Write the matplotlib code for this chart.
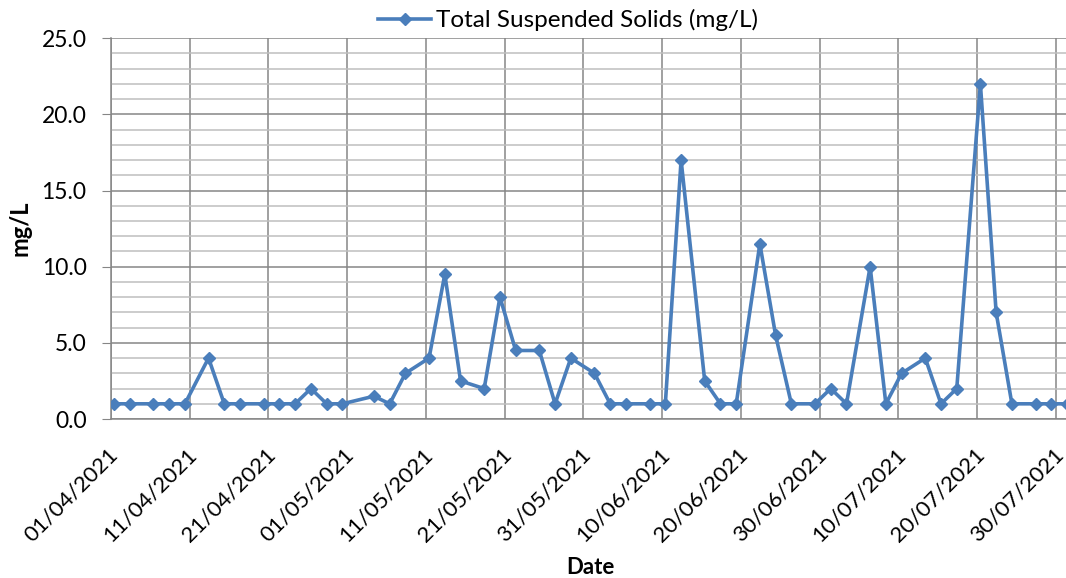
import matplotlib.pyplot as plt
import matplotlib.dates as mdates
import matplotlib.transforms as mtransforms
import pandas as pd
from matplotlib.ticker import MultipleLocator

plt.rcParams['font.family'] = ['Lato', 'DejaVu Sans']

# sampling dates and TSS results
dates = ["01/04/2021", "03/04/2021", "06/04/2021", "08/04/2021", "10/04/2021",
         "13/04/2021", "15/04/2021", "17/04/2021", "20/04/2021", "22/04/2021",
         "24/04/2021", "26/04/2021", "28/04/2021", "30/04/2021", "04/05/2021",
         "06/05/2021", "08/05/2021", "11/05/2021", "13/05/2021", "15/05/2021",
         "18/05/2021", "20/05/2021", "22/05/2021", "25/05/2021", "27/05/2021",
         "29/05/2021", "01/06/2021", "03/06/2021", "05/06/2021", "08/06/2021",
         "10/06/2021", "12/06/2021", "15/06/2021", "17/06/2021", "19/06/2021",
         "22/06/2021", "24/06/2021", "26/06/2021", "29/06/2021", "01/07/2021",
         "03/07/2021", "06/07/2021", "08/07/2021", "10/07/2021", "13/07/2021",
         "15/07/2021", "17/07/2021", "20/07/2021", "22/07/2021", "24/07/2021",
         "27/07/2021", "29/07/2021", "31/07/2021"]
tss = [1, 1, 1, 1, 1,
       4, 1, 1, 1, 1,
       1, 2, 1, 1, 1.5,
       1, 3, 4, 9.5, 2.5,
       2, 8, 4.5, 4.5, 1,
       4, 3, 1, 1, 1,
       1, 17, 2.5, 1, 1,
       11.5, 5.5, 1, 1, 2,
       1, 10, 1, 3, 4,
       1, 2, 22, 7, 1,
       1, 1, 1]
tick_dates = ["01/04/2021", "11/04/2021", "21/04/2021", "01/05/2021", "11/05/2021",
              "21/05/2021", "31/05/2021", "10/06/2021", "20/06/2021", "30/06/2021",
              "10/07/2021", "20/07/2021", "30/07/2021"]

x = mdates.date2num(pd.to_datetime(dates, format="%d/%m/%Y"))
ticks = mdates.date2num(pd.to_datetime(tick_dates, format="%d/%m/%Y"))
slot = 0.4  # points sit a little inside each day slot

fig = plt.figure(figsize=(10.66, 5.78), dpi=100)
ax = fig.add_axes([0.104, 0.275, 0.896, 0.659])

ax.plot(x, tss, color='#4A7EBB', linewidth=2.6, marker='D', markersize=5.8,
        label='Total Suspended Solids (mg/L)', zorder=3)

ax.set_ylim(0, 25)
ax.yaxis.set_major_locator(MultipleLocator(5))
ax.yaxis.set_minor_locator(MultipleLocator(1))
ax.yaxis.set_major_formatter(lambda v, p: f"{v:.1f}")
ax.set_xlim(ticks[0] - slot, ticks[0] - slot + 121.27)
ax.set_xticks(ticks - slot)
ax.set_xticklabels(tick_dates)

ax.grid(which='major', axis='both', color='#868686', linewidth=1.1)
ax.grid(which='minor', axis='y', color='#BEBEBE', linewidth=1.1)
ax.set_axisbelow(True)

for s in ['top', 'right']:
    ax.spines[s].set_visible(False)
for s in ['left', 'bottom']:
    ax.spines[s].set_color('#868686')
    ax.spines[s].set_linewidth(1.1)

ax.tick_params(axis='y', which='major', length=6.5, color='#868686', labelsize=16.5, pad=11)
ax.tick_params(axis='y', which='minor', length=0)
ax.tick_params(axis='x', length=0, labelsize=16, pad=23)
# rotated date labels, nudged right of their gridline
shift = mtransforms.ScaledTranslation(0.04, 0, fig.dpi_scale_trans)
for lbl in ax.get_xticklabels():
    lbl.set_rotation(45)
    lbl.set_rotation_mode('anchor')
    lbl.set_ha('right')
    lbl.set_va('center')
    lbl.set_transform(lbl.get_transform() + shift)

ax.set_xlabel('Date', fontsize=16, fontweight='bold')
ax.xaxis.set_label_coords(0.5026, -0.362)
ax.set_ylabel('mg/L', fontsize=17, fontweight='bold')
ax.yaxis.set_label_coords(-0.083, 0.501)

fig.legend(loc='center', bbox_to_anchor=(0.533, 0.965), frameon=False,
           fontsize=17.5, handlelength=2.2, handletextpad=0.2)

plt.savefig('out.png', dpi=100)
